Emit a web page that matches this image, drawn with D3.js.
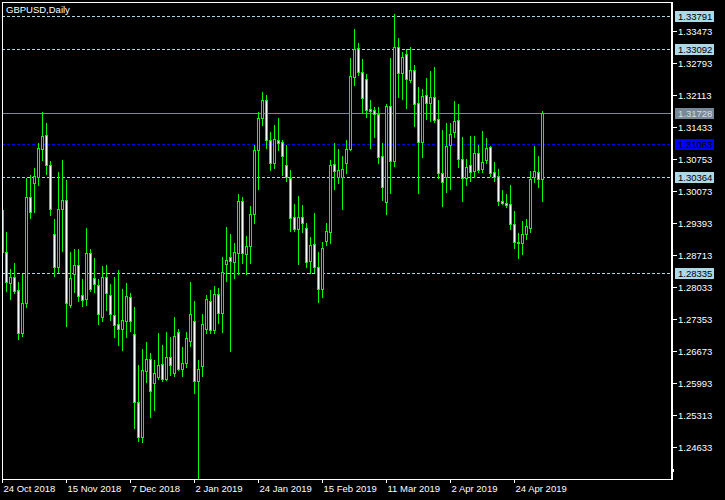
<!DOCTYPE html>
<html>
<head>
<meta charset="utf-8">
<script src="https://cdn.jsdelivr.net/npm/d3@7"></script>
<style>
html,body{margin:0;padding:0;background:#000;}
svg{display:block;}
text{font-family:"Liberation Sans",Arial,sans-serif;font-size:9.5px;}
</style>
</head>
<body>
<svg id="chart" width="725" height="500"></svg>
<script>
// ---- data (GBPUSD daily) ----
const openP = [1.29668,1.28784,1.28126,1.28240,1.27965,1.27065,1.27689,1.29938,1.30235,1.30362,1.30956,1.31260,1.30617,1.29153,1.28465,1.29683,1.29881,1.27653,1.28304,1.28501,1.27858,1.27774,1.28750,1.28219,1.28077,1.27404,1.28240,1.27858,1.27434,1.27243,1.27150,1.27319,1.27816,1.27031,1.25588,1.24858,1.26258,1.26500,1.25991,1.26118,1.26394,1.26082,1.26543,1.26203,1.27073,1.26301,1.26428,1.26895,1.27313,1.26046,1.26365,1.27143,1.27737,1.27122,1.27880,1.27489,1.28516,1.28665,1.28571,1.28762,1.29853,1.28728,1.28911,1.29577,1.30942,1.31621,1.32003,1.31154,1.30659,1.31154,1.31105,1.30623,1.30341,1.29514,1.29265,1.29514,1.29280,1.28593,1.28941,1.28453,1.27998,1.29017,1.29208,1.30638,1.30375,1.30362,1.30672,1.30956,1.32497,1.33100,1.32603,1.32442,1.31812,1.31790,1.31699,1.30821,1.29832,1.31882,1.30715,1.33121,1.32582,1.32979,1.32427,1.32639,1.31933,1.31118,1.32102,1.31945,1.32060,1.31593,1.30447,1.30375,1.31048,1.31330,1.31578,1.30744,1.30341,1.30623,1.30502,1.30884,1.30532,1.30729,1.30999,1.30481,1.30396,1.29859,1.29823,1.29789,1.29365,1.28996,1.28962,1.29153,1.29293,1.30375,1.30481,1.30320];
const highP = [1.29845,1.29208,1.28410,1.28537,1.28134,1.28310,1.30354,1.30411,1.30553,1.31084,1.31742,1.31521,1.30708,1.29477,1.30475,1.30729,1.30305,1.28777,1.28841,1.28841,1.28204,1.29293,1.28841,1.28650,1.28211,1.28480,1.28501,1.28098,1.28247,1.28395,1.27992,1.28126,1.27914,1.27617,1.26379,1.26719,1.26867,1.26628,1.26486,1.27052,1.26804,1.27080,1.26967,1.27398,1.27143,1.26761,1.27073,1.28141,1.27737,1.26486,1.27462,1.27865,1.27971,1.28056,1.28020,1.28677,1.29308,1.29159,1.28962,1.30008,1.29938,1.29117,1.29753,1.31048,1.31748,1.32172,1.32109,1.31324,1.31472,1.31627,1.31154,1.31048,1.30517,1.29796,1.29965,1.29775,1.29386,1.29089,1.29611,1.28784,1.28996,1.29386,1.30729,1.31084,1.30956,1.30814,1.31154,1.32887,1.33509,1.33206,1.32866,1.32554,1.32003,1.31848,1.31848,1.31084,1.31918,1.32887,1.33827,1.33312,1.33027,1.33078,1.33134,1.32745,1.32285,1.32230,1.32463,1.32618,1.32696,1.32003,1.31366,1.31521,1.31521,1.31988,1.31918,1.31224,1.30744,1.31239,1.31239,1.31048,1.31345,1.31203,1.31026,1.30693,1.30532,1.30093,1.30008,1.30199,1.29647,1.29187,1.29435,1.29477,1.30496,1.31026,1.30814,1.31769];
const lowP = [1.28767,1.27956,1.27774,1.27901,1.26938,1.26995,1.27617,1.29505,1.29632,1.30199,1.30729,1.30432,1.29562,1.28274,1.28346,1.28805,1.27207,1.27604,1.27935,1.27737,1.27638,1.27659,1.27943,1.27928,1.27243,1.27319,1.27546,1.27334,1.26980,1.26804,1.26698,1.26967,1.27107,1.25049,1.24773,1.24752,1.26025,1.25282,1.25425,1.26076,1.26040,1.26061,1.26167,1.26146,1.26273,1.26146,1.26343,1.26783,1.25792,1.23982,1.26146,1.27065,1.27065,1.27065,1.27277,1.27086,1.28162,1.26683,1.28232,1.28310,1.28550,1.28304,1.28550,1.29399,1.30114,1.31472,1.30984,1.30517,1.30553,1.30942,1.30411,1.30290,1.29229,1.29229,1.28523,1.29208,1.28453,1.28325,1.28359,1.27723,1.27829,1.28926,1.28962,1.30114,1.30248,1.29683,1.30460,1.30942,1.32321,1.32533,1.31720,1.31648,1.30978,1.31224,1.30672,1.29881,1.29584,1.30036,1.30602,1.32060,1.32017,1.31826,1.32391,1.31451,1.30036,1.30799,1.31593,1.31563,1.31542,1.30341,1.29753,1.30057,1.30108,1.31224,1.30587,1.29866,1.30199,1.30290,1.30375,1.30481,1.30481,1.30672,1.30390,1.30290,1.29775,1.29796,1.29738,1.29265,1.28868,1.28656,1.28735,1.29047,1.29208,1.30269,1.30163,1.29866];
const closeP = [1.28784,1.28147,1.28240,1.27956,1.27065,1.27689,1.29938,1.29632,1.30390,1.30978,1.31239,1.30617,1.29696,1.28465,1.29683,1.29881,1.27689,1.28219,1.28501,1.27850,1.27752,1.28750,1.27998,1.28092,1.27455,1.28240,1.27901,1.27468,1.27235,1.27150,1.27334,1.27844,1.27319,1.25601,1.24858,1.26273,1.26500,1.25834,1.26203,1.26379,1.26082,1.26543,1.26373,1.26988,1.26301,1.26416,1.26946,1.27455,1.26046,1.26295,1.27249,1.27774,1.27122,1.27880,1.27476,1.28346,1.28601,1.28593,1.28771,1.29853,1.28750,1.28905,1.29577,1.30942,1.31621,1.32003,1.31154,1.30666,1.31169,1.31084,1.30821,1.30362,1.29492,1.29265,1.29514,1.29399,1.28571,1.28926,1.28453,1.27986,1.28856,1.29223,1.30623,1.30502,1.30517,1.30532,1.30956,1.32512,1.33078,1.32603,1.32039,1.31790,1.31775,1.31699,1.30799,1.30163,1.31882,1.30715,1.33121,1.32582,1.32909,1.32442,1.32639,1.31918,1.31118,1.32087,1.31945,1.32060,1.31578,1.30447,1.30269,1.31026,1.31281,1.31557,1.30744,1.30341,1.30587,1.30481,1.30872,1.30517,1.30693,1.30978,1.30460,1.30375,1.29866,1.29811,1.29775,1.29365,1.28996,1.28962,1.29159,1.29329,1.30320,1.30496,1.30320,1.31728];

const dateTickIdx = [0,16,32,48,64,80,96,112,128];
const dateTickLabels = ["24 Oct 2018","15 Nov 2018","7 Dec 2018","2 Jan 2019","24 Jan 2019","15 Feb 2019","11 Mar 2019","2 Apr 2019","24 Apr 2019"];
const priceTicks = [1.33473,1.32793,1.32113,1.31433,1.30753,1.30073,1.29393,1.28713,1.28033,1.27353,1.26673,1.25993,1.25313,1.24633];
const hLevels = [1.33791,1.33092,1.30364,1.28335];
const blueLevel = 1.31063;
const bidLevel = 1.31728;
const title = "GBPUSD,Daily";

// ---- layout ----
const L = 2, T = 2, R = 672, B = 479;
const svg = d3.select("#chart");
svg.append("rect").attr("width",725).attr("height",500).attr("fill","#000");

const x = d3.scaleLinear().domain([0, 135]).range([2.5, 542.5]);
const y = d3.scaleLinear().domain([1.24633, 1.33473]).range([447.3, 30.7]);
const py = v => Math.round(y(v)) + 0.5;

svg.append("defs").append("clipPath").attr("id","plot")
  .append("rect").attr("x",L+1).attr("y",T+1).attr("width",R-L-1).attr("height",B-T-1);

const plot = svg.append("g").attr("clip-path","url(#plot)").attr("shape-rendering","crispEdges");

// horizontal levels
plot.selectAll("line.lvl").data(hLevels).enter().append("line")
  .attr("x1",L).attr("x2",R).attr("y1",py).attr("y2",py)
  .attr("stroke","#add8e6").attr("stroke-dasharray","3,2");
plot.append("line").attr("x1",L).attr("x2",R).attr("y1",py(bidLevel)).attr("y2",py(bidLevel))
  .attr("stroke","#778899");
plot.append("line").attr("x1",L).attr("x2",R).attr("y1",py(blueLevel)).attr("y2",py(blueLevel))
  .attr("stroke","#0000ff").attr("stroke-dasharray","3,2");

// candles
const idx = d3.range(openP.length);
const g = plot.append("g");
g.selectAll("line.wick").data(idx).enter().append("line")
  .attr("x1",i=>x(i)).attr("x2",i=>x(i))
  .attr("y1",i=>Math.round(y(highP[i]))).attr("y2",i=>Math.round(y(lowP[i]))+1)
  .attr("stroke","#00ff00");
g.selectAll("rect.body").data(idx).enter().append("rect")
  .attr("x",i=>x(i)-1)
  .attr("y",i=>py(Math.max(openP[i],closeP[i])))
  .attr("width",2)
  .attr("height",i=>Math.max(0, py(Math.min(openP[i],closeP[i])) - py(Math.max(openP[i],closeP[i]))))
  .attr("fill",i=> closeP[i] < openP[i] ? "#ffffff" : "#000000")
  .attr("stroke","#00ff00");

// frame
const frame = svg.append("g").attr("shape-rendering","crispEdges");
frame.append("line").attr("x1",L+0.5).attr("x2",L+0.5).attr("y1",T).attr("y2",B+1).attr("stroke","#fff");
frame.append("line").attr("x1",L).attr("x2",R+1).attr("y1",T+0.5).attr("y2",T+0.5).attr("stroke","#fff");
frame.append("line").attr("x1",L).attr("x2",R+1).attr("y1",B+0.5).attr("y2",B+0.5).attr("stroke","#fff");
frame.append("line").attr("x1",R).attr("x2",R).attr("y1",T).attr("y2",B+1).attr("stroke","#fff").attr("stroke-width",2);
frame.append("rect").attr("x",R-1).attr("y",469).attr("width",3).attr("height",3).attr("fill","#fff");

// right price axis
const yAxis = d3.axisRight(y).tickValues(priceTicks).tickSize(4).tickPadding(1).tickFormat(d3.format(".5f"));
const ya = svg.append("g").attr("transform",`translate(${R+1},0)`).call(yAxis);
ya.select(".domain").remove();
ya.selectAll(".tick").attr("transform", d => `translate(0,${py(d)})`);
ya.selectAll(".tick line").attr("stroke","#fff").attr("shape-rendering","crispEdges");
ya.selectAll(".tick text").attr("fill","#fff").style("font-family",'"Liberation Sans",Arial,sans-serif').style("font-size","9.5px");

// boxed level labels
const boxes = hLevels.map(v=>({v, bg:"#add8e6", fg:"#000"}))
  .concat([{v:bidLevel,bg:"#778899",fg:"#dcdcdc"},{v:blueLevel,bg:"#0000ff",fg:"#000"}]);
const bx = svg.append("g");
bx.selectAll("rect").data(boxes).enter().append("rect")
  .attr("x",675).attr("y",d=>Math.round(y(d.v))-5).attr("width",39).attr("height",11)
  .attr("fill",d=>d.bg);
bx.selectAll("text").data(boxes).enter().append("text")
  .attr("x",678).attr("y",d=>Math.round(y(d.v))+0.5).attr("dy","0.34em")
  .attr("fill",d=>d.fg).text(d=>d3.format(".5f")(d.v));

// bottom date axis
const xAxis = d3.axisBottom(x).tickValues(dateTickIdx).tickSize(4).tickPadding(2)
  .tickFormat((d,i)=>dateTickLabels[i]);
const xa = svg.append("g").attr("transform",`translate(0,${B})`).call(xAxis);
xa.select(".domain").remove();
xa.selectAll(".tick").attr("transform", d => `translate(${Math.floor(x(d))+0.5},0)`);
xa.selectAll(".tick line").attr("stroke","#fff").attr("shape-rendering","crispEdges");
xa.selectAll(".tick text").attr("fill","#fff").attr("text-anchor","start").attr("x",1)
  .style("font-family",'"Liberation Sans",Arial,sans-serif').style("font-size","9.5px");

// title
svg.append("text").attr("x",6).attr("y",13).attr("fill","#fff").text(title);
</script>
</body>
</html>
